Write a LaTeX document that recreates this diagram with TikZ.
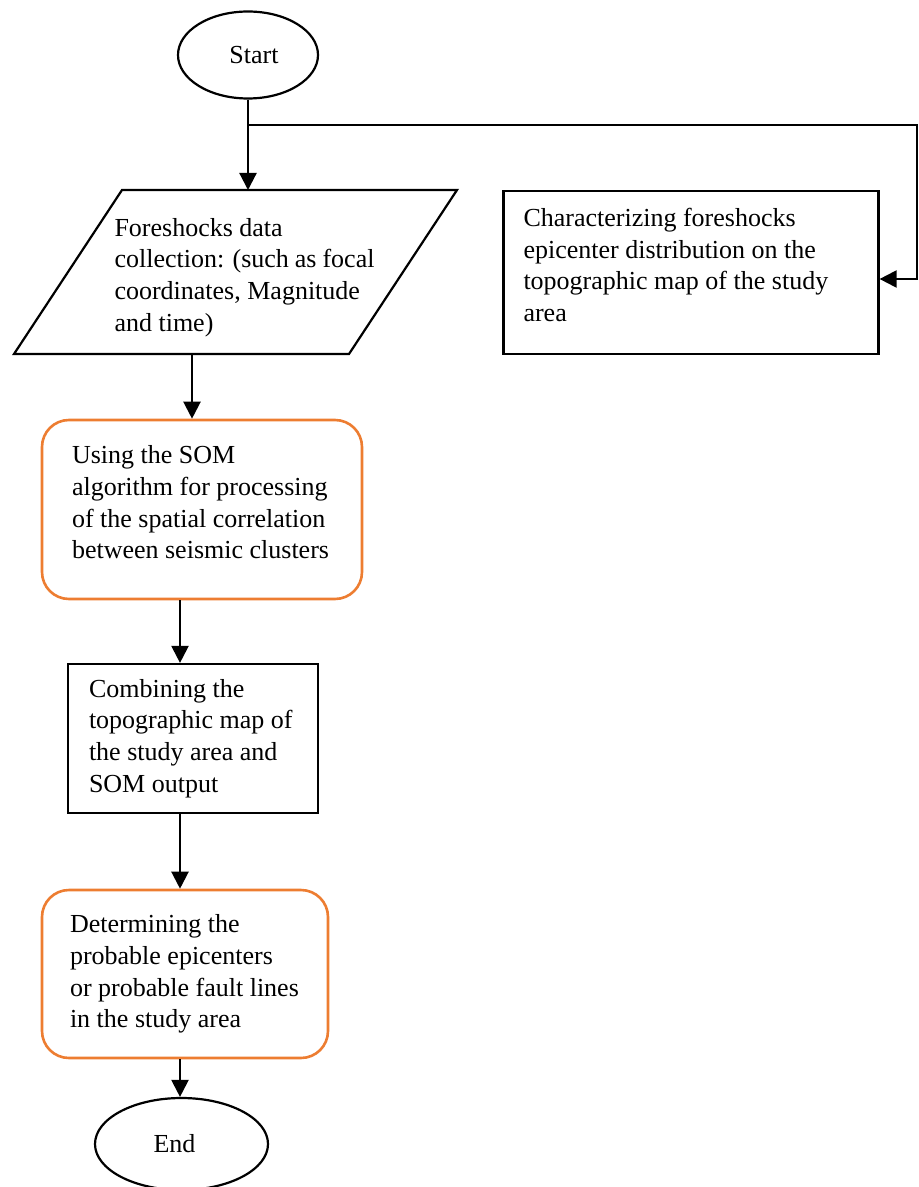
\documentclass[tikz,border=0pt]{standalone}
\usepackage{fontspec}
\setmainfont{Liberation Serif}
\usetikzlibrary{shapes.geometric,arrows.meta,calc}
\definecolor{boxorange}{HTML}{ED7D31}
\newcommand{\boxtext}[3]{\parbox{#1}{\raggedright #3\par\vspace*{#2}}}
\tikzset{
  txt/.style={font=\fontsize{13}{15.8}\selectfont, inner sep=0pt},
  term/.style={draw, ellipse, line width=1.1pt, inner sep=0pt, font=\fontsize{13}{15.8}\selectfont},
  procbox/.style={draw, rectangle, line width=1.1pt, txt},
  orangebox/.style={draw=boxorange, rounded corners=13.5pt, rectangle, line width=1.3pt, txt},
  conn/.style={line width=1.1pt},
  arr/.style={conn, -{Triangle[length=8.5pt,width=8.5pt]}}
}
\begin{document}
\begin{tikzpicture}[x=0.5pt,y=-0.5pt]
\useasboundingbox (0,0) rectangle (918,1187);
% terminals
\node[term, minimum width=70pt, minimum height=43.5pt] (start) at (248,55) {\hspace*{6pt}Start};
\node[term, minimum width=86.5pt, minimum height=46pt] (end) at (181.5,1144) {End\hspace*{7pt}};
% parallelogram
\coordinate (pA) at (122,190);
\coordinate (pB) at (457,190);
\coordinate (pC) at (349,354);
\coordinate (pD) at (14,354);
\draw[conn] (pA) -- (pB) -- (pC) -- (pD) -- cycle;
\node[txt] (p) at (244.5,277.5) {\boxtext{130pt}{0pt}{Foreshocks data\\collection: (such as focal\\coordinates, Magnitude\\and time)}};
% right box
\node[procbox, minimum width=187.5pt, minimum height=81.5pt] (r) at (691,272.5)
  {\boxtext{167.5pt}{7.5pt}{Characterizing foreshocks\\epicenter distribution on the\\topographic map of the study\\area}};
% SOM box
\node[orangebox, minimum width=160pt, minimum height=89.5pt] (som) at (202,509.5)
  {\boxtext{130pt}{7pt}{Using the SOM\\algorithm for processing\\of the spatial correlation\\between seismic clusters}};
% combining box
\node[procbox, minimum width=125pt, minimum height=74.5pt] (comb) at (193,738.5)
  {\boxtext{104pt}{0pt}{Combining the\\topographic map of\\the study area and\\SOM output}};
% determining box
\node[orangebox, minimum width=143pt, minimum height=84pt] (det) at (185,974)
  {\boxtext{115pt}{0pt}{Determining the\\probable epicenters\\or probable fault lines\\in the study area}};
% connectors
\coordinate (s1) at (248,125);
\coordinate (b2) at (917,125);
\coordinate (b3) at (917,279);
\coordinate (q1) at (192,354);
\coordinate (x180) at (180,0);
\draw[arr] (start.south) -- (start.south |- pA);
\draw[arr] (s1) -- (b2) -- (b3) -- (b3 -| r.east);
\draw[arr] (q1) -- (q1 |- som.north);
\draw[arr] (som.south -| x180) -- (comb.north -| x180);
\draw[arr] (comb.south -| x180) -- (det.north -| x180);
\draw[arr] (det.south -| x180) -- (end.north -| x180);
\end{tikzpicture}
\end{document}
